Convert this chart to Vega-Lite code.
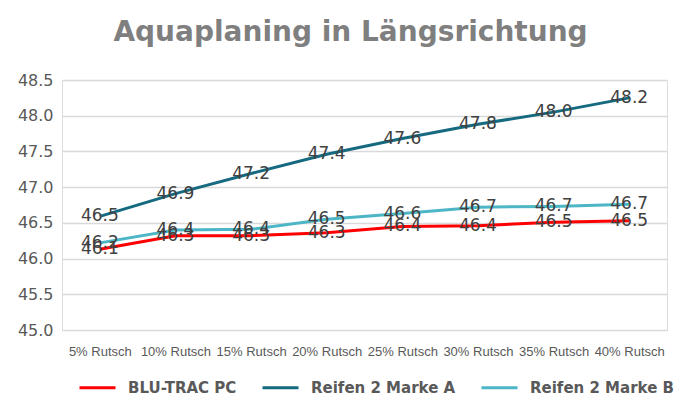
{
  "$schema": "https://vega.github.io/schema/vega-lite/v6.json",
  "width": 605,
  "height": 250,
  "autosize": {"type": "none"},
  "padding": {"left": 62, "top": 80, "right": 30, "bottom": 83},
  "background": "white",
  "title": {
    "text": "Aquaplaning in Längsrichtung",
    "font": "DejaVu Sans",
    "fontSize": 28,
    "fontWeight": "bold",
    "color": "#7f7f7f",
    "anchor": "middle",
    "dx": -14,
    "offset": 25
  },
  "data": {
    "values": [
      {"x": "5% Rutsch", "series": "BLU-TRAC PC", "value": 46.13, "label": "46.1"},
      {"x": "10% Rutsch", "series": "BLU-TRAC PC", "value": 46.32, "label": "46.3"},
      {"x": "15% Rutsch", "series": "BLU-TRAC PC", "value": 46.32, "label": "46.3"},
      {"x": "20% Rutsch", "series": "BLU-TRAC PC", "value": 46.36, "label": "46.3"},
      {"x": "25% Rutsch", "series": "BLU-TRAC PC", "value": 46.45, "label": "46.4"},
      {"x": "30% Rutsch", "series": "BLU-TRAC PC", "value": 46.46, "label": "46.4"},
      {"x": "35% Rutsch", "series": "BLU-TRAC PC", "value": 46.51, "label": "46.5"},
      {"x": "40% Rutsch", "series": "BLU-TRAC PC", "value": 46.53, "label": "46.5"},
      {"x": "5% Rutsch", "series": "Reifen 2 Marke A", "value": 46.59, "label": "46.5"},
      {"x": "10% Rutsch", "series": "Reifen 2 Marke A", "value": 46.91, "label": "46.9"},
      {"x": "15% Rutsch", "series": "Reifen 2 Marke A", "value": 47.19, "label": "47.2"},
      {"x": "20% Rutsch", "series": "Reifen 2 Marke A", "value": 47.46, "label": "47.4"},
      {"x": "25% Rutsch", "series": "Reifen 2 Marke A", "value": 47.68, "label": "47.6"},
      {"x": "30% Rutsch", "series": "Reifen 2 Marke A", "value": 47.88, "label": "47.8"},
      {"x": "35% Rutsch", "series": "Reifen 2 Marke A", "value": 48.05, "label": "48.0"},
      {"x": "40% Rutsch", "series": "Reifen 2 Marke A", "value": 48.25, "label": "48.2"},
      {"x": "5% Rutsch", "series": "Reifen 2 Marke B", "value": 46.22, "label": "46.2"},
      {"x": "10% Rutsch", "series": "Reifen 2 Marke B", "value": 46.40, "label": "46.4"},
      {"x": "15% Rutsch", "series": "Reifen 2 Marke B", "value": 46.41, "label": "46.4"},
      {"x": "20% Rutsch", "series": "Reifen 2 Marke B", "value": 46.55, "label": "46.5"},
      {"x": "25% Rutsch", "series": "Reifen 2 Marke B", "value": 46.63, "label": "46.6"},
      {"x": "30% Rutsch", "series": "Reifen 2 Marke B", "value": 46.72, "label": "46.7"},
      {"x": "35% Rutsch", "series": "Reifen 2 Marke B", "value": 46.73, "label": "46.7"},
      {"x": "40% Rutsch", "series": "Reifen 2 Marke B", "value": 46.76, "label": "46.7"}
    ]
  },
  "encoding": {
    "x": {
      "field": "x",
      "type": "ordinal",
      "sort": null,
      "scale": {"type": "point", "padding": 0.5},
      "axis": {
        "title": null,
        "domain": false,
        "ticks": false,
        "grid": false,
        "labelAngle": 0,
        "labelFont": "Liberation Sans",
        "labelFontSize": 13,
        "labelColor": "#595959",
        "labelPadding": 15
      }
    },
    "y": {
      "field": "value",
      "type": "quantitative",
      "scale": {"domain": [45, 48.5], "nice": false, "zero": false},
      "axis": {
        "title": null,
        "values": [45, 45.5, 46, 46.5, 47, 47.5, 48, 48.5],
        "format": ".1f",
        "domain": false,
        "ticks": false,
        "grid": true,
        "gridColor": "#d9d9d9",
        "gridWidth": 1.5,
        "labelFont": "DejaVu Sans",
        "labelFontSize": 16,
        "labelColor": "#595959",
        "labelPadding": 9
      }
    }
  },
  "layer": [
    {
      "mark": {"type": "line", "strokeWidth": 3},
      "encoding": {
        "color": {
          "field": "series",
          "type": "nominal",
          "sort": ["BLU-TRAC PC", "Reifen 2 Marke A", "Reifen 2 Marke B"],
          "scale": {
            "domain": ["BLU-TRAC PC", "Reifen 2 Marke A", "Reifen 2 Marke B"],
            "range": ["#ff0000", "#156a80", "#4db6c6"]
          },
          "legend": {
            "title": null,
            "orient": "none",
            "legendX": 16,
            "legendY": 288,
            "direction": "horizontal",
            "symbolType": "stroke",
            "symbolSize": 1296,
            "symbolStrokeWidth": 3,
            "labelFont": "DejaVu Sans",
            "labelFontSize": 15,
            "labelFontWeight": "bold",
            "labelColor": "#595959",
            "labelOffset": 11,
            "columnPadding": 19,
            "padding": 0
          }
        }
      }
    },
    {
      "mark": {"type": "text", "font": "DejaVu Sans", "fontSize": 17, "color": "#404040", "baseline": "middle", "align": "center"},
      "encoding": {
        "text": {"field": "label", "type": "nominal"},
        "detail": {"field": "series", "type": "nominal"}
      }
    }
  ]
}
